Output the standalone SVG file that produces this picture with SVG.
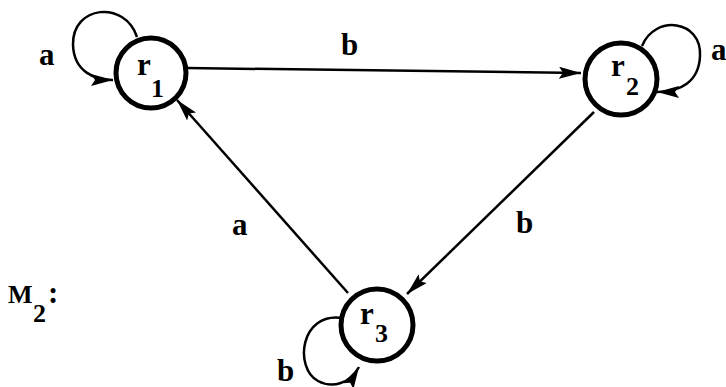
<svg xmlns="http://www.w3.org/2000/svg" width="726" height="387" viewBox="0 0 726 387">
<defs>
<style>
.node{fill:#fff;stroke:#000;stroke-width:5}
.edge{fill:none;stroke:#000;stroke-width:2.5}
.lbl{font-family:"Liberation Serif",serif;font-weight:bold;font-size:31px;fill:#000}
.sub{font-family:"Liberation Serif",serif;font-weight:bold;font-size:26px;fill:#000}
</style>
<marker id="ah" markerUnits="userSpaceOnUse" markerWidth="24" markerHeight="12" refX="22" refY="6" orient="auto">
<path d="M0,0 L22,6 L0,12 L4,6 Z" fill="#000"/>
</marker>
</defs>
<rect width="726" height="387" fill="#fff"/>
<g id="edges">
<path class="edge" d="M187,68 L581,73" stroke-width="3.5" marker-end="url(#ah)"/>
<path class="edge" d="M594,112 L407,294" marker-end="url(#ah)"/>
<path class="edge" d="M348,293 L177,100" marker-end="url(#ah)"/>
<path class="edge" d="M137,37 C125,0 72,5 73,45 C74,72 95,80 113,80" stroke-width="3" marker-end="url(#ah)"/>
<path class="edge" d="M642,46 C655,14 702,20 700,56 C699,82 680,92 657,92" stroke-width="3" marker-end="url(#ah)"/>
<path class="edge" d="M342,318 C300,312 294,368 318,381 C333,389 350,383 359,367" stroke-width="3" marker-end="url(#ah)"/>
<text class="lbl" x="341" y="55">b</text>
<text class="lbl" x="516" y="233">b</text>
<text class="lbl" x="232" y="235">a</text>
<text class="lbl" x="39" y="65">a</text>
<text class="lbl" x="711" y="60">a</text>
<text class="lbl" x="277" y="381">b</text>
</g>
<g id="r1">
<circle class="node" cx="151" cy="73" r="35"/>
<text class="lbl" x="137" y="75">r</text>
<text class="sub" x="151" y="97">1</text>
</g>
<g id="r2">
<circle class="node" cx="621" cy="79" r="36"/>
<text class="lbl" x="611" y="76">r</text>
<text class="sub" x="626" y="95">2</text>
</g>
<g id="r3">
<circle class="node" cx="377" cy="325" r="36"/>
<text class="lbl" x="360" y="324">r</text>
<text class="sub" x="375" y="342">3</text>
</g>
<g id="label-M2">
<text class="sub" x="8" y="303">M</text>
<text class="sub" x="33" y="322">2</text>
<text class="lbl" x="48" y="303">:</text>
</g>
</svg>
